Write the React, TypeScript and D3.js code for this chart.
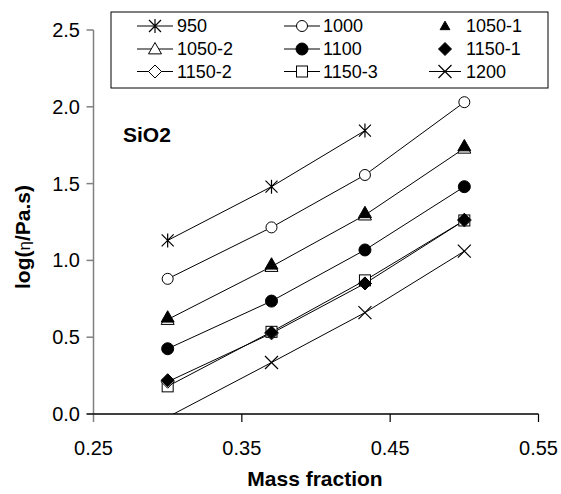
import React from "react";
import * as d3 from "d3";

const xValues = [0.30, 0.37, 0.433, 0.50];
const s950 = [1.13, 1.48, 1.845];
const s1000 = [0.88, 1.215, 1.556, 2.03];
const s1050_1 = [0.63, 0.975, 1.31, 1.745];
const s1050_2 = [0.615, 0.96, 1.295, 1.73];
const s1100 = [0.425, 0.735, 1.068, 1.48];
const s1150_1 = [0.22, 0.53, 0.85, 1.265];
const s1150_2 = [0.21, 0.525, 0.85, 1.26];
const s1150_3 = [0.18, 0.535, 0.87, 1.26];
const s1200 = [-0.02, 0.335, 0.66, 1.06];
const xTicks = [0.25, 0.35, 0.45, 0.55];
const yTicks = [0.0, 0.5, 1.0, 1.5, 2.0, 2.5];

type Mk = "asterisk" | "circleOpen" | "triFilled" | "triOpen" | "circleFilled" | "diamondFilled" | "diamondOpen" | "squareOpen" | "times";

const series: { name: string; values: number[]; marker: Mk; line: boolean }[] = [
  { name: "950", values: s950, marker: "asterisk", line: true },
  { name: "1000", values: s1000, marker: "circleOpen", line: true },
  { name: "1050-2", values: s1050_2, marker: "triOpen", line: true },
  { name: "1050-1", values: s1050_1, marker: "triFilled", line: false },
  { name: "1100", values: s1100, marker: "circleFilled", line: true },
  { name: "1150-3", values: s1150_3, marker: "squareOpen", line: true },
  { name: "1150-2", values: s1150_2, marker: "diamondOpen", line: true },
  { name: "1150-1", values: s1150_1, marker: "diamondFilled", line: false },
  { name: "1200", values: s1200, marker: "times", line: true },
];

const legendOrder = ["950", "1000", "1050-1", "1050-2", "1100", "1150-1", "1150-2", "1150-3", "1200"];

const FONT = "'Liberation Sans', Arial, sans-serif";

function Marker({ type, x, y, small }: { type: Mk; x: number; y: number; small?: boolean }) {
  const r = 5.5;
  switch (type) {
    case "asterisk":
      return (
        <path d={`M${x - 6},${y - 6}L${x + 6},${y + 6}M${x - 6},${y + 6}L${x + 6},${y - 6}M${x},${y - 7}L${x},${y + 7}`} stroke="#000" strokeWidth={1.2} fill="none" />
      );
    case "times":
      return (
        <path d={`M${x - 6.5},${y - 6.5}L${x + 6.5},${y + 6.5}M${x - 6.5},${y + 6.5}L${x + 6.5},${y - 6.5}`} stroke="#000" strokeWidth={1.2} fill="none" />
      );
    case "circleOpen":
      return <circle cx={x} cy={y} r={r} fill="#fff" stroke="#000" strokeWidth={1} />;
    case "circleFilled":
      return <circle cx={x} cy={y} r={6} fill="#000" stroke="#000" strokeWidth={1} />;
    case "triOpen":
    case "triFilled": {
      const k = small ? 0.75 : 1;
      const h = 6.5 * k;
      const p = `M${x},${y - h}L${x + 6.5 * k},${y + h * 0.75}L${x - 6.5 * k},${y + h * 0.75}Z`;
      return <path d={p} fill={type === "triFilled" ? "#000" : "#fff"} stroke="#000" strokeWidth={1} />;
    }
    case "diamondOpen":
    case "diamondFilled": {
      const s = 6.5;
      const p = `M${x},${y - s}L${x + s},${y}L${x},${y + s}L${x - s},${y}Z`;
      return <path d={p} fill={type === "diamondFilled" ? "#000" : "#fff"} stroke="#000" strokeWidth={1} />;
    }
    case "squareOpen":
      return <rect x={x - 5.5} y={y - 5.5} width={11} height={11} fill="#fff" stroke="#000" strokeWidth={1} />;
  }
  return null;
}

export default function App() {
  const width = 561;
  const height = 494;
  const x = d3.scaleLinear().domain([0.25, 0.55]).range([93.5, 538.5]);
  const y = d3.scaleLinear().domain([0, 2.5]).range([414, 30]);
  const line = d3.line<[number, number]>().x((d) => x(d[0])).y((d) => y(d[1]));

  const legendCols = [
    { sx: 155, lx0: 137, lx1: 173, tx: 177 },
    { sx: 302, lx0: 284, lx1: 320, tx: 323 },
    { sx: 445, lx0: 429, lx1: 461, tx: 466 },
  ];
  const legendRows = [26, 49, 71.5];

  return (
    <svg width={width} height={height} style={{ position: "absolute", left: 0, top: 0, background: "#fff" }} fontFamily={FONT}>
      <rect x={0} y={0} width={width} height={height} fill="#fff" />
      <defs>
        <clipPath id="plot">
          <rect x={x(0.25)} y={y(2.5) - 8} width={x(0.55) - x(0.25) + 8} height={y(0) - y(2.5) + 8} />
        </clipPath>
      </defs>

      {/* data */}
      <g clipPath="url(#plot)">
        {series.map((s) =>
          s.line ? (
            <path
              key={"l" + s.name}
              d={line(s.values.map((v, i) => [xValues[i], v]) as [number, number][]) || ""}
              fill="none"
              stroke="#000"
              strokeWidth={1}
            />
          ) : null
        )}
        {series.map((s) => (
          <g key={"m" + s.name}>
            {s.values.map((v, i) => (v >= 0 ? <Marker key={i} type={s.marker} x={x(xValues[i])} y={y(v)} /> : null))}
          </g>
        ))}
      </g>

      {/* axes */}
      <line x1={x(0.25)} x2={x(0.25)} y1={y(2.5)} y2={y(0) + 8} stroke="#808080" strokeWidth={1.5} />
      {yTicks.map((t) => (
        <g key={"yt" + t}>
          <line x1={x(0.25) - 7} x2={x(0.25)} y1={y(t)} y2={y(t)} stroke={t === 0 ? "#000" : "#808080"} strokeWidth={1.5} />
          <text x={80} y={y(t)} dy="0.35em" textAnchor="end" fontSize={20} fill="#000">
            {d3.format(".1f")(t)}
          </text>
        </g>
      ))}
      <line x1={x(0.25)} x2={x(0.55)} y1={y(0)} y2={y(0)} stroke="#000" strokeWidth={1.5} />
      {xTicks.map((t) => (
        <g key={"xt" + t}>
          {t !== 0.25 && <line x1={x(t)} x2={x(t)} y1={y(0)} y2={y(0) + 8} stroke="#000" strokeWidth={1.2} />}
          <text x={x(t)} y={455} textAnchor="middle" fontSize={20} fill="#000">
            {d3.format(".2f")(t)}
          </text>
        </g>
      ))}

      {/* axis titles */}
      <text x={315} y={486} textAnchor="middle" fontSize={21} fontWeight="bold" fill="#000">
        Mass fraction
      </text>
      <text transform={`translate(30,237) rotate(-90)`} textAnchor="middle" fontSize={21} fontWeight="bold" fill="#000">
        log(<tspan fontWeight="normal" fontSize={17}>η</tspan>/Pa.s)
      </text>

      <text x={123} y={142} fontSize={21} fontWeight="bold" fill="#000">
        SiO2
      </text>

      {/* legend */}
      <rect x={111} y={12} width={437} height={76} fill="#fff" stroke="#000" strokeWidth={1} />
      {legendOrder.map((name, i) => {
        const s = series.find((d) => d.name === name)!;
        const c = legendCols[i % 3];
        const ry = legendRows[Math.floor(i / 3)];
        return (
          <g key={"lg" + name}>
            {s.line && <line x1={c.lx0} x2={c.lx1} y1={ry} y2={ry} stroke="#000" strokeWidth={1} />}
            <Marker type={s.marker} x={c.sx} y={ry} small={name === "1050-1"} />
            <text x={c.tx} y={ry} dy="0.36em" fontSize={18} fill="#000">
              {name}
            </text>
          </g>
        );
      })}
    </svg>
  );
}
